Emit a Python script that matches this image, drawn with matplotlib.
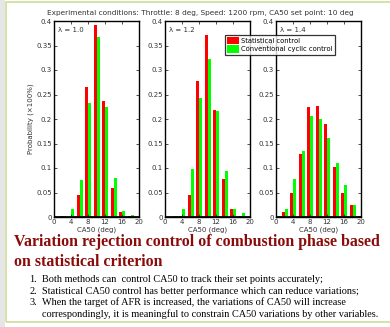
import numpy as np
import matplotlib
matplotlib.use("Agg")
import matplotlib.pyplot as plt
from matplotlib.patches import Rectangle

# CA50 bin centres (deg) and probabilities
ca50 = np.array([2, 4, 6, 8, 10, 12, 14, 16, 18, 20])

stat_10 = [0.002, 0.0, 0.044, 0.265, 0.391, 0.236, 0.059, 0.0095, 0.003, 0.0]
conv_10 = [0.002, 0.016, 0.075, 0.232, 0.367, 0.224, 0.079, 0.012, 0.005, 0.001]

stat_12 = [0.001, 0.003, 0.044, 0.277, 0.371, 0.219, 0.077, 0.016, 0.002, 0.0]
conv_12 = [0.003, 0.016, 0.097, 0.242, 0.322, 0.216, 0.093, 0.016, 0.0075, 0.001]

stat_14 = [0.0095, 0.050, 0.128, 0.224, 0.226, 0.189, 0.103, 0.049, 0.0245, 0.003]
conv_14 = [0.016, 0.077, 0.134, 0.207, 0.201, 0.161, 0.110, 0.066, 0.024, 0.012]

lambdas = ["\u03bb = 1.0", "\u03bb = 1.2", "\u03bb = 1.4"]
yticks = [0, 0.05, 0.1, 0.15, 0.2, 0.25, 0.3, 0.35, 0.4]
yticklabels = ["0", "0.05", "0.1", "0.15", "0.2", "0.25", "0.3", "0.35", "0.4"]
xticks = [0, 4, 8, 12, 16, 20]

title = "Experimental conditions: Throttle: 8 deg, Speed: 1200 rpm, CA50 set point: 10 deg"
heading = ["Variation rejection control of combustion phase based",
           "on statistical criterion"]
points = [
    "Both methods can  control CA50 to track their set points accurately;",
    "Statistical CA50 control has better performance which can reduce variations;",
    "When the target of AFR is increased, the variations of CA50 will increase",
    "correspondingly, it is meaningful to constrain CA50 variations by other variables.",
]
numbers = ["1.", "2.", "3.", ""]

W, H = 390, 327
fig = plt.figure(figsize=(W / 100, H / 100), dpi=100)
fig.patch.set_facecolor("white")

# slide frame
fig.add_artist(Rectangle((0, 0), 5 / W, 1, transform=fig.transFigure,
                         facecolor="#e6e6e6", edgecolor="none"))
fig.add_artist(Rectangle((6 / W, 5 / H), 1.0, 1 - 7 / H, transform=fig.transFigure,
                         facecolor="none", edgecolor="#cfe0a0", linewidth=1.3))

lefts = [54, 165, 276]
data = [(stat_10, conv_10), (stat_12, conv_12), (stat_14, conv_14)]
axes = []
for i, (s, c) in enumerate(data):
    ax = fig.add_axes([lefts[i] / W, 1 - 217 / H, 85 / W, 196 / H])
    bs = ax.bar(ca50 - 0.25, s, width=0.7, color="#ff0000", linewidth=0)
    bc = ax.bar(ca50 + 0.45, c, width=0.7, color="#00ff00", linewidth=0)
    ax.axhline(0, color="black", linewidth=2)
    ax.set_xlim(0, 20)
    ax.set_ylim(0, 0.4)
    ax.set_xticks(xticks)
    ax.set_yticks(yticks)
    ax.set_yticklabels(yticklabels)
    ax.tick_params(direction="in", length=2, width=0.6, labelsize=5,
                   top=True, right=True, pad=1.5, colors="#333333")
    for sp in ax.spines.values():
        sp.set_linewidth(1.0)
    ax.set_xlabel("CA50 (deg)", fontsize=5, labelpad=1, color="#333333")
    ax.text(0.05, 0.97, lambdas[i], transform=ax.transAxes, fontsize=5,
            va="top", ha="left", color="#333333")
    axes.append(ax)

axes[0].set_ylabel("Probability (\u00d7100%)", fontsize=5, labelpad=2, color="#333333")

leg = fig.legend([bs, bc], ["Statistical control", "Conventional cyclic control"],
                 loc="upper left", bbox_to_anchor=(225 / W, 1 - 35 / H),
                 fontsize=4.9, frameon=True, fancybox=False, borderpad=0.3,
                 handlelength=1.8, handleheight=1.3, handletextpad=0.3,
                 labelspacing=0.15, borderaxespad=0)
leg.get_frame().set_edgecolor("black")
leg.get_frame().set_linewidth(0.9)

fig.text(200 / W, 1 - 13 / H, title, fontsize=5.3, ha="center", va="center",
         color="#333333")

for k, line in enumerate(heading):
    fig.text(14 / W, 1 - (242 + 20 * k) / H, line, fontsize=11.4,
             fontweight="bold", family="Liberation Serif", color="#8b0a0a",
             ha="left", va="center")

for k, (n, line) in enumerate(zip(numbers, points)):
    y = 1 - (280 + 11.3 * k) / H
    if n:
        fig.text(37 / W, y, n, fontsize=7.4, family="Liberation Serif",
                 ha="right", va="center")
    fig.text(42 / W, y, line, fontsize=7.4, family="Liberation Serif",
             ha="left", va="center")

fig.savefig("out.png", dpi=100)
